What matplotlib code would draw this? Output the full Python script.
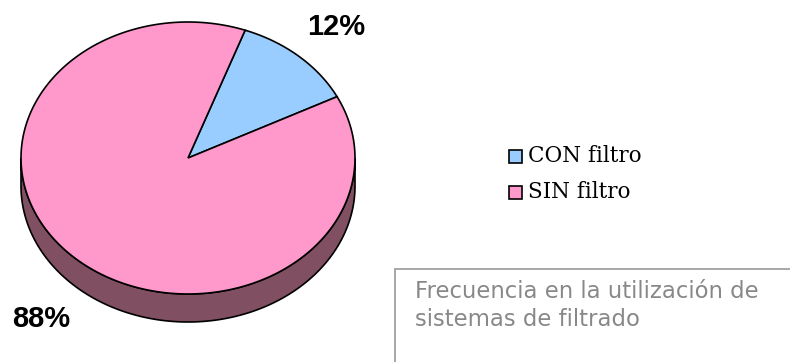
import numpy as np
import matplotlib.pyplot as plt
from matplotlib.patches import Polygon, Rectangle

# data
labels = ["CON filtro", "SIN filtro"]
values = [12, 88]
colors = ["#99CCFF", "#FF99CC"]
side_color = "#804F62"

# pie geometry in pixel coords
cx, cy = 188, 158
a, b = 167, 136
depth = 28
start = 70.0  # degrees, slices go clockwise


def arc(t1, t2, dy=0, n=200):
    t = np.radians(np.linspace(t1, t2, n))
    return np.column_stack([cx + a * np.cos(t), cy - b * np.sin(t) + dy])


fig = plt.figure(figsize=(7.9, 3.62), dpi=100)
ax = fig.add_axes([0, 0, 1, 1])
ax.set_xlim(0, 790)
ax.set_ylim(362, 0)
ax.axis("off")

# side wall (front half of the ellipse)
top = arc(180, 360)
bot = arc(360, 180, dy=depth)
ax.add_patch(Polygon(np.vstack([top, bot]), closed=True, facecolor=side_color,
                     edgecolor="black", lw=1.2, zorder=1))

# top face
total = sum(values)
ang = start
for v, c in zip(values, colors):
    sweep = 360.0 * v / total
    pts = np.vstack([[cx, cy], arc(ang, ang - sweep)])
    ax.add_patch(Polygon(pts, closed=True, facecolor=c, edgecolor="black",
                         lw=1.2, joinstyle="miter", zorder=2))
    ang -= sweep

# percentage labels
ax.text(336, 27, f"{values[0]}%", ha="center", va="center", fontsize=21,
        fontweight="bold", family="Liberation Sans")
ax.text(41, 319, f"{values[1]}%", ha="center", va="center", fontsize=21,
        fontweight="bold", family="Liberation Sans")

# legend
for i, (lab, c) in enumerate(zip(labels, colors)):
    y = 156 + i * 36
    ax.add_patch(Rectangle((509, y - 6.5), 13, 13, facecolor=c,
                           edgecolor="black", lw=1.2))
    ax.text(528, y, lab, ha="left", va="center", fontsize=15.5,
            family="DejaVu Serif")

# caption box
ax.plot([395, 395, 792], [365, 269, 269], color="#A0A0A0", lw=1.3,
        solid_joinstyle="miter")
ax.text(415, 280, "Frecuencia en la utilización de\nsistemas de filtrado",
        ha="left", va="top", fontsize=16.4, color="#888888",
        family="DejaVu Sans", linespacing=1.3)

fig.savefig("out.png", dpi=100)
